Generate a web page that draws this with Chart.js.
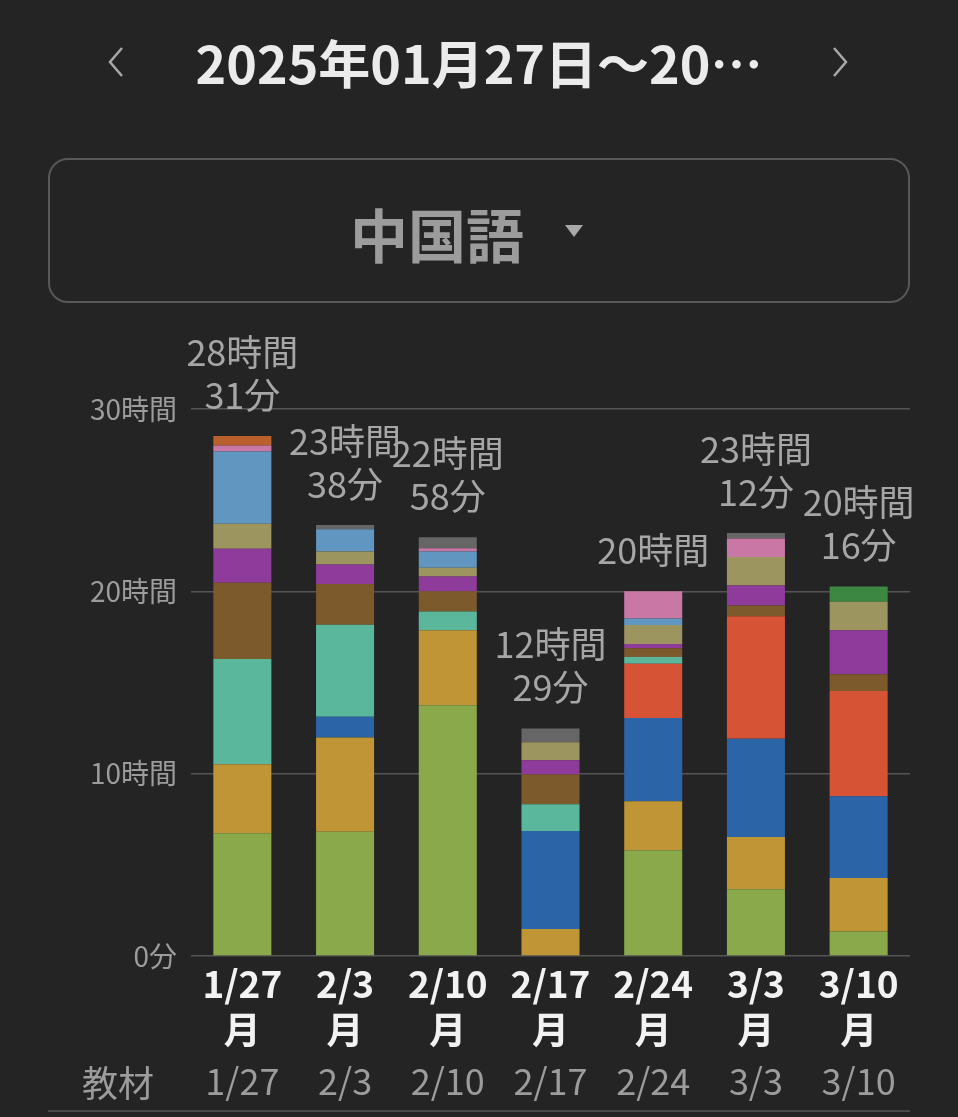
<!DOCTYPE html>
<html lang="ja">
<head>
<meta charset="utf-8">
<script src="https://cdn.jsdelivr.net/npm/chart.js@4.4.1/dist/chart.umd.min.js"></script>
<style>
    body {
        margin: 0;
        width: 958px;
        height: 1117px;
        overflow: hidden;
        position: relative;
        background: #242424;
        font-family: "Noto Sans CJK JP", "Noto Sans", sans-serif;
    }
    .title {
        position: absolute;
        left: 0;
        top: 27px;
        width: 958px;
        text-align: center;
        font-size: 52px;
        line-height: 70px;
        font-weight: bold;
        color: #ebebeb;
    }
    .arrow { position: absolute; top: 44px; }
    .box {
        position: absolute;
        left: 48px;
        top: 158px;
        width: 862px;
        height: 145px;
        box-sizing: border-box;
        border: 2.5px solid #585858;
        border-radius: 20px;
    }
    .subject {
        position: absolute;
        left: 350px;
        top: 193px;
        font-size: 58px;
        line-height: 80px;
        font-weight: bold;
        color: #9c9c9c;
    }
    .caret {
        position: absolute;
        left: 565px;
        top: 225px;
        width: 0;
        height: 0;
        border-left: 9px solid transparent;
        border-right: 9px solid transparent;
        border-top: 12px solid #a8a8a8;
    }
    .rowlabel {
        position: absolute;
        left: 82px;
        top: 1057px;
        font-size: 36px;
        line-height: 48px;
        color: #9c9c9c;
    }
    .bottomline {
        position: absolute;
        left: 48px;
        top: 1110px;
        width: 862px;
        height: 2px;
        background: #4a4a4a;
    }
    #chart { position: absolute; left: 0; top: 320px; }
</style>
</head>
<body>
<svg class="arrow" style="left:102px" width="26" height="36"><polyline points="20,4 8,18 20,32" fill="none" stroke="#a8a8a8" stroke-width="2.5"/></svg>
<div class="title">2025年01月27日～20…</div>
<svg class="arrow" style="left:828px" width="26" height="36"><polyline points="6,4 18,18 6,32" fill="none" stroke="#a8a8a8" stroke-width="2.5"/></svg>

<div class="box"></div>
<div class="subject">中国語</div>
<div class="caret"></div>

<canvas id="chart" width="958" height="786"></canvas>
<div class="rowlabel">教材</div>
<div class="bottomline"></div>

<script>
// weeks (x axis)
const categories = ['1/27', '2/3', '2/10', '2/17', '2/24', '3/3', '3/10'];
const weekdays = ['月', '月', '月', '月', '月', '月', '月'];

// study minutes per material, bottom of the stack first
const green     = [404, 409, 825,   0, 348, 220,  81];
const gold      = [227, 310, 247,  89, 161, 172, 176];
const blue      = [  0,  68,   0, 322, 274, 323, 269];
const red       = [  0,   0,   0,   0, 179, 403, 346];
const teal      = [346, 303,  62,  88,  22,   0,   0];
const brown     = [251, 134,  66,  98,  29,  35,  55];
const purple    = [112,  64,  49,  47,  14,  66, 145];
const khaki     = [ 82,  43,  29,  59,  62,  94,  94];
const lightBlue = [238,  73,  53,   0,  22,   0,   0];
const pink      = [ 20,   0,  11,   0,  89,  61,   0];
const orange    = [ 31,   0,   0,   0,   0,   0,   0];
const gray      = [  0,  14,  36,  46,   0,  18,   0];
const darkGreen = [  0,   0,   0,   0,   0,   0,  50];

// y ticks in minutes
const yTicks = [0, 600, 1200, 1800];

const series = [
    { data: green, color: '#8aa94b' },
    { data: gold, color: '#bf9535' },
    { data: blue, color: '#2c64a8' },
    { data: red, color: '#d65335' },
    { data: teal, color: '#5bb79c' },
    { data: brown, color: '#7c5a2b' },
    { data: purple, color: '#8f3b9c' },
    { data: khaki, color: '#9d9560' },
    { data: lightBlue, color: '#6096c0' },
    { data: pink, color: '#c978a6' },
    { data: orange, color: '#b9602c' },
    { data: gray, color: '#666666' },
    { data: darkGreen, color: '#3c8842' },
];

// total time written above each bar
const totalLabels = {
    id: 'totalLabels',
    afterDatasetsDraw(chart) {
        const ctx = chart.ctx;
        ctx.save();
        ctx.font = '36px "Noto Sans CJK JP"';
        ctx.fillStyle = '#a6a6a6';
        ctx.textAlign = 'center';
        ctx.textBaseline = 'middle';
        categories.forEach((c, i) => {
            let total = 0;
            let topBar = null;
            chart.data.datasets.forEach((d, k) => {
                total += d.data[i];
                if (d.data[i] > 0) topBar = chart.getDatasetMeta(k).data[i];
            });
            if (!topBar) return;
            const h = Math.floor(total / 60);
            const m = total % 60;
            const lines = m ? [h + '時間', m + '分'] : [h + '時間'];
            lines.reverse().forEach((t, j) => {
                ctx.fillText(t, topBar.x, topBar.y - 41 - j * 43);
            });
        });
        ctx.restore();
    }
};

const ctx = document.getElementById('chart').getContext('2d');

new Chart(ctx, {
    type: 'bar',
    data: {
        labels: categories.map((c, i) => [c, weekdays[i]]),
        datasets: series.map(s => ({
            data: s.data,
            backgroundColor: s.color,
            borderWidth: 0,
            categoryPercentage: 1,
            barPercentage: 0.565
        }))
    },
    options: {
        responsive: false,
        animation: false,
        layout: { padding: { top: 89, right: 48, left: 0, bottom: 0 } },
        plugins: {
            legend: { display: false },
            tooltip: { enabled: false }
        },
        scales: {
            x: {
                stacked: true,
                grid: { display: false, drawTicks: false },
                border: { display: false },
                ticks: {
                    color: '#f2f2f2',
                    padding: 5,
                    font: { family: '"Noto Sans CJK JP"', size: 37, weight: 'bold', lineHeight: 1.24 }
                },
                afterFit(scale) { scale.height = 101; }
            },
            x2: {
                type: 'category',
                position: 'bottom',
                weight: 1,
                offset: true,
                labels: categories,
                grid: { display: false, drawTicks: false },
                border: { display: false },
                ticks: {
                    color: '#9c9c9c',
                    padding: 3,
                    font: { family: '"Noto Sans CJK JP"', size: 36, lineHeight: 1.17 }
                },
                afterFit(scale) { scale.height = 49; }
            },
            y: {
                stacked: true,
                min: 0,
                max: 1800,
                border: { display: false },
                grid: { color: '#555555', lineWidth: 1.5, drawTicks: false },
                afterBuildTicks(scale) { scale.ticks = yTicks.map(v => ({ value: v })); },
                ticks: {
                    color: '#9c9c9c',
                    padding: 14,
                    font: { family: '"Noto Sans CJK JP"', size: 28 },
                    callback: v => v === 0 ? '0分' : (v / 60) + '時間'
                },
                afterFit(scale) { scale.width = 191; }
            }
        }
    },
    plugins: [totalLabels]
});
</script>
</body>
</html>
